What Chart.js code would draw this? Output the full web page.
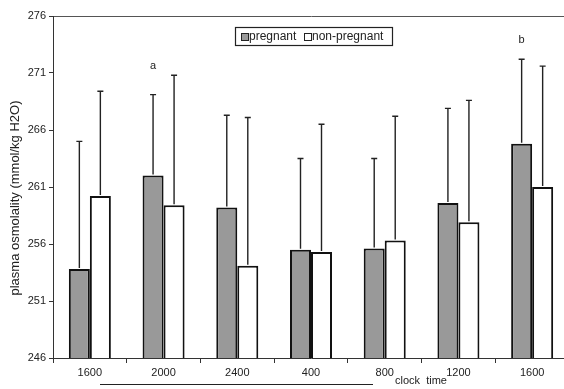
<!DOCTYPE html>
<html>
<head>
<meta charset="utf-8">
<script src="https://cdn.jsdelivr.net/npm/chart.js@4"></script>
<style>
  body { margin: 0; background: #fff; overflow: hidden; }
</style>
</head>
<body>
<canvas id="chart" width="572" height="389"></canvas>
<script>
// clock times (x categories)
const clockTimes = ['1600', '2000', '2400', '400', '800', '1200', '1600'];
// mean plasma osmolality (mmol/kg H2O)
const pregnant = [253.8, 262.0, 259.2, 255.5, 255.6, 259.6, 264.8];
const nonPregnant = [260.2, 259.4, 254.1, 255.3, 256.3, 257.9, 261.0];
// SD (upper error bars only)
const pregnantSd = [11.2, 7.1, 8.1, 8.0, 7.9, 8.3, 7.4];
const nonPregnantSd = [9.2, 11.4, 13.0, 11.2, 10.9, 10.7, 10.6];
// significance letters above pregnant bars, and the value they sit at
const letters = ['', 'a', '', '', '', '', 'b'];
const letterAt = [null, 271.6, null, null, null, null, 273.9];
const yTicks = [246, 251, 256, 261, 266, 271, 276];

const FONT = 'Liberation Sans, Arial, sans-serif';

// draws the upper error bars and letters
const errorBars = {
  id: 'errorBars',
  afterDatasetsDraw(chart) {
    const ctx = chart.ctx;
    const y = chart.scales.y;
    const sds = [pregnantSd, nonPregnantSd];
    ctx.save();
    ctx.strokeStyle = '#222';
    ctx.lineWidth = 1.4;
    chart.data.datasets.forEach(function (ds, i) {
      const meta = chart.getDatasetMeta(i);
      meta.data.forEach(function (bar, j) {
        const top = y.getPixelForValue(ds.data[j] + sds[i][j]);
        ctx.beginPath();
        ctx.moveTo(bar.x, bar.y - 1);
        ctx.lineTo(bar.x, top);
        ctx.moveTo(bar.x - 3, top);
        ctx.lineTo(bar.x + 3, top);
        ctx.stroke();
      });
    });
    ctx.fillStyle = '#222';
    ctx.font = '11px ' + FONT;
    ctx.textAlign = 'center';
    ctx.textBaseline = 'middle';
    const meta0 = chart.getDatasetMeta(0);
    letters.forEach(function (l, j) {
      if (!l) return;
      ctx.fillText(l, meta0.data[j].x, y.getPixelForValue(letterAt[j]));
    });
    ctx.restore();
  }
};

// legend box, axis titles and the underline
const extras = {
  id: 'extras',
  afterDraw(chart) {
    const ctx = chart.ctx;
    ctx.save();
    ctx.strokeStyle = '#222';
    ctx.lineWidth = 1.2;
    ctx.strokeRect(235.5, 27.5, 157, 18);
    ctx.font = '12px ' + FONT;
    ctx.textBaseline = 'middle';
    ctx.fillStyle = '#999';
    ctx.fillRect(241, 33, 7, 7);
    ctx.lineWidth = 1;
    ctx.strokeRect(241.5, 33.5, 7, 7);
    ctx.fillStyle = '#222';
    ctx.fillText(chart.data.datasets[0].label, 249, 37);
    ctx.strokeRect(304.5, 33.5, 7, 7);
    ctx.fillText(chart.data.datasets[1].label, 312, 37);
    // x axis title
    ctx.font = '11px ' + FONT;
    ctx.fillText('clock  time', 395, 381);
    ctx.beginPath();
    ctx.moveTo(100, 384.5);
    ctx.lineTo(373, 384.5);
    ctx.stroke();
    // y axis title
    ctx.translate(15, 198);
    ctx.rotate(-Math.PI / 2);
    ctx.textAlign = 'center';
    ctx.font = '13px ' + FONT;
    ctx.fillText('plasma osmolality (mmol/kg H2O)', 0, 0);
    ctx.restore();
  }
};

new Chart(document.getElementById('chart'), {
  type: 'bar',
  data: {
    labels: clockTimes,
    datasets: [
      {
        label: 'pregnant',
        data: pregnant,
        backgroundColor: '#999999',
        borderColor: '#111',
        borderWidth: 2,
        borderSkipped: false
      },
      {
        label: 'non-pregnant',
        data: nonPregnant,
        backgroundColor: '#ffffff',
        borderColor: '#111',
        borderWidth: 2,
        borderSkipped: false
      }
    ]
  },
  options: {
    responsive: false,
    animation: false,
    layout: { padding: { top: 16, right: 3, left: 0, bottom: 0 } },
    datasets: { bar: { categoryPercentage: 0.57, barPercentage: 1 } },
    plugins: {
      legend: { display: false },
      tooltip: { enabled: false }
    },
    scales: {
      x: {
        afterFit: function (s) { s.height = 31; },
        grid: {
          offset: true,
          drawOnChartArea: false,
          tickLength: 5,
          color: '#333'
        },
        border: { color: '#333', width: 1 },
        ticks: { color: '#222', font: { family: FONT, size: 11 }, padding: 3 }
      },
      y: {
        min: 246,
        max: 276,
        afterFit: function (s) { s.width = 53; },
        afterBuildTicks: function (s) { s.ticks = yTicks.map(function (v) { return { value: v }; }); },
        grid: {
          color: function (c) { return c.tick && c.tick.value === 276 ? '#555' : 'rgba(0,0,0,0)'; },
          tickColor: '#333',
          tickLength: 4
        },
        border: { color: '#333', width: 1 },
        ticks: { color: '#222', font: { family: FONT, size: 11 }, padding: 3 }
      }
    }
  },
  plugins: [errorBars, extras]
});
</script>
</body>
</html>
